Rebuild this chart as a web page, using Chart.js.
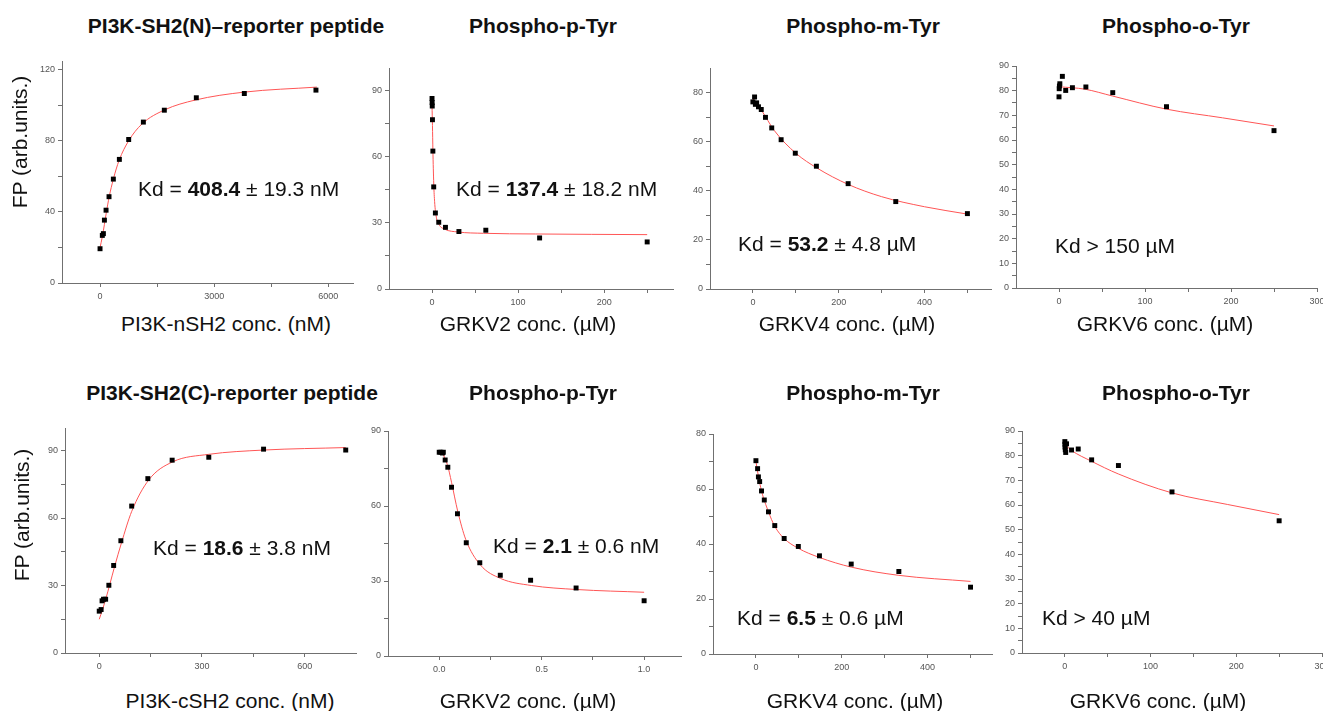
<!DOCTYPE html>
<html>
<head>
<meta charset="utf-8">
<title>FP binding curves</title>
<script src="https://cdn.jsdelivr.net/npm/chart.js@4.4.0/dist/chart.umd.min.js"></script>
<style>
  html, body { margin: 0; padding: 0; background: #fff; }
  body { position: relative; width: 1323px; height: 711px; overflow: hidden;
         font-family: "Liberation Sans", Arial, sans-serif; color: #111; }
  canvas { position: absolute; }
  .lbl { position: absolute; white-space: nowrap; line-height: 1; }
  .title { font-size: 21px; font-weight: bold; transform: translate(-50%, -50%); }
  .xtitle { font-size: 21px; transform: translate(-50%, -50%); }
  .ytitle { font-size: 21px; transform: translate(-50%, -50%) rotate(-90deg); }
  .kd { font-size: 21px; transform: translateY(-50%); }
</style>
</head>
<body>
<script>

// row 1 - PI3K-SH2(N)
var p1X = [0, 60, 88, 115, 158, 236, 350, 508, 753, 1139, 1690, 2531, 3793, 5676];
var p1Y = [19.3, 26.8, 27.8, 35.4, 41.0, 48.6, 58.5, 69.6, 80.8, 90.6, 97.3, 104.3, 106.7, 108.6];
var p1FitX = [0, 60, 115, 160, 240, 350, 500, 750, 1100, 1700, 2500, 3800, 5700];
var p1FitY = [20, 26, 33, 39, 48.5, 58.5, 69, 80, 89.5, 97.5, 103, 107.5, 110.3];

var p2X = [0, 0.12, 0.24, 0.49, 0.98, 1.95, 3.9, 7.8, 15.6, 31.25, 62.5, 125, 250];
var p2Y = [86.2, 84.4, 82.8, 76.6, 62.4, 46.2, 34.4, 30.2, 27.9, 26.0, 26.6, 23.1, 21.3];
var p2FitX = [0, 0.5, 1, 2, 3, 5, 8, 15, 30, 60, 120, 250];
var p2FitY = [83, 74, 63, 47.5, 39.5, 32.5, 29.2, 27, 25.8, 25.2, 24.9, 24.6];

var p3X = [0, 3.9, 5.8, 8.7, 13, 19.5, 29.3, 43.9, 65.8, 98.8, 148, 222, 333, 500];
var p3Y = [76.2, 78.2, 75.2, 75.8, 74.2, 73.1, 69.9, 65.6, 60.8, 55.3, 50.0, 42.9, 35.6, 30.7];
var p3FitX = [0, 20, 50, 100, 150, 222, 300, 400, 500];
var p3FitY = [77.5, 72.8, 64.5, 55.3, 49.2, 42.6, 37.6, 33.5, 30.5];

var p4X = [0, 0.24, 0.49, 0.98, 3.9, 7.8, 15.6, 31.25, 62.5, 125, 250];
var p4Y = [77.5, 80.8, 81.9, 82.8, 85.8, 80.1, 81.2, 81.5, 79.2, 73.5, 63.8];
var p4FitX = [0, 30, 62.5, 125, 190, 250];
var p4FitY = [81.6, 80.6, 77.8, 72.5, 69.0, 65.7];

// row 2 - PI3K-SH2(C)
var p5X = [0, 5.5, 8.3, 12.5, 18.7, 28.1, 42.1, 63.2, 94.8, 142, 213, 320, 480, 720];
var p5Y = [18.6, 19.3, 23.2, 23.9, 23.9, 30.1, 38.9, 49.9, 65.3, 77.5, 85.7, 87.0, 90.6, 90.2];
var p5FitX = [0, 10, 20, 30, 45, 65, 95, 145, 215, 320, 480, 720];
var p5FitY = [15, 19.5, 24.5, 30, 38.5, 49, 63, 77, 85, 88.3, 90.2, 91.3];

var p6X = [0, 0.008, 0.016, 0.02, 0.029, 0.042, 0.06, 0.089, 0.132, 0.198, 0.298, 0.446, 0.668, 1.0];
var p6Y = [81.5, 81.5, 81.2, 81.5, 78.4, 75.5, 67.5, 56.9, 45.3, 37.3, 32.3, 30.3, 27.2, 22.1];
var p6FitX = [0.02, 0.04, 0.06, 0.09, 0.13, 0.2, 0.3, 0.45, 0.67, 1.0];
var p6FitY = [80.5, 76.5, 69.5, 58, 46.5, 36.5, 31, 28.2, 26.6, 25.5];

var p7X = [0, 3.9, 5.8, 8.7, 13, 19.5, 29.3, 43.9, 65.8, 98.8, 148, 222, 333, 500];
var p7Y = [70.3, 67.4, 64.4, 62.7, 59.3, 56.0, 51.7, 46.7, 42.0, 39.1, 35.7, 32.7, 30.0, 24.3];
var p7FitX = [0, 6, 13, 29, 44, 65, 98, 148, 222, 333, 500];
var p7FitY = [70, 64.5, 59.3, 51.8, 46.4, 42.1, 38.5, 35.1, 31.6, 28.6, 26.4];

var p8X = [0, 0.12, 0.24, 0.49, 0.98, 1.95, 7.8, 15.6, 31.25, 62.5, 125, 250];
var p8Y = [85.7, 84.6, 83.5, 82.4, 81.3, 84.8, 82.3, 82.7, 78.3, 76.0, 65.3, 53.6];
var p8FitX = [0, 7.5, 30.7, 62.3, 125, 190, 250];
var p8FitY = [84.6, 82.2, 77.8, 72.6, 64.9, 60.2, 56.1];

/* tick values (major labelled, minor unlabelled) */
var p1XTicks = [0, 3000, 6000],  p1XMinor = [1500, 4500];
var p1YTicks = [0, 40, 80, 120], p1YMinor = [20, 60, 100];
var p2XTicks = [0, 100, 200],    p2XMinor = [50, 150, 250];
var p2YTicks = [0, 30, 60, 90],  p2YMinor = [15, 45, 75];
var p3XTicks = [0, 200, 400],    p3XMinor = [100, 300, 500];
var p3YTicks = [0, 20, 40, 60, 80], p3YMinor = [10, 30, 50, 70];
var p4XTicks = [0, 100, 200, 300], p4XMinor = [50, 150, 250];
var p4YTicks = [0, 10, 20, 30, 40, 50, 60, 70, 80, 90], p4YMinor = [5, 15, 25, 35, 45, 55, 65, 75, 85];
var p5XTicks = [0, 300, 600],    p5XMinor = [150, 450];
var p5YTicks = [0, 30, 60, 90],  p5YMinor = [15, 45, 75];
var p6XTicks = [0, 0.5, 1.0],    p6XMinor = [0.25, 0.75];
var p6XTickLabels = ['0.0', '0.5', '1.0'];
var p6YTicks = [0, 30, 60, 90],  p6YMinor = [15, 45, 75];
var p7XTicks = [0, 200, 400],    p7XMinor = [100, 300, 500];
var p7YTicks = [0, 20, 40, 60, 80], p7YMinor = [10, 30, 50, 70];
var p8XTicks = [0, 100, 200, 300], p8XMinor = [50, 150, 250];
var p8YTicks = [0, 10, 20, 30, 40, 50, 60, 70, 80, 90], p8YMinor = [5, 15, 25, 35, 45, 55, 65, 75, 85];

/* texts */
var titles = ['PI3K-SH2(N)\u2013reporter peptide', 'Phospho-p-Tyr', 'Phospho-m-Tyr', 'Phospho-o-Tyr',
              'PI3K-SH2(C)-reporter peptide', 'Phospho-p-Tyr', 'Phospho-m-Tyr', 'Phospho-o-Tyr'];
var xTitles = ['PI3K-nSH2 conc. (nM)', 'GRKV2 conc. (\u00b5M)', 'GRKV4 conc. (\u00b5M)', 'GRKV6 conc. (\u00b5M)',
               'PI3K-cSH2 conc. (nM)', 'GRKV2 conc. (\u00b5M)', 'GRKV4 conc. (\u00b5M)', 'GRKV6 conc. (\u00b5M)'];
var yTitle = 'FP (arb.units.)';
var kdTexts = [
  ['Kd = ', '408.4', ' \u00b1 19.3 nM'],
  ['Kd = ', '137.4', ' \u00b1 18.2 nM'],
  ['Kd = ', '53.2', ' \u00b1 4.8 \u00b5M'],
  ['Kd > 150 \u00b5M', '', ''],
  ['Kd = ', '18.6', ' \u00b1 3.8 nM'],
  ['Kd = ', '2.1', ' \u00b1 0.6 nM'],
  ['Kd = ', '6.5', ' \u00b1 0.6 \u00b5M'],
  ['Kd > 40 \u00b5M', '', '']
];

/* layout: plot box in page px (l, r, t, b), axis ranges, text anchors */
var LAYOUT = [
  { box: [62, 353, 61, 283],    x: [-1000, 6650], y: [0, 125], title: [236, 25],  xt: [226, 323],  kd: [138, 188] },
  { box: [389, 673, 68, 289],   x: [-50, 280],    y: [0, 100], title: [543, 25],  xt: [528, 323],  kd: [456, 188] },
  { box: [710, 991, 68, 289],   x: [-100, 555],   y: [0, 90],  title: [863, 25],  xt: [847, 323],  kd: [738, 243] },
  { box: [1016, 1317, 66, 288], x: [-50, 300],    y: [0, 90],  title: [1176, 25], xt: [1165, 323], kd: [1055, 245] },
  { box: [65, 356, 428, 653],   x: [-100, 750],   y: [0, 100], title: [232, 392], xt: [230, 700],  kd: [153, 547] },
  { box: [388, 681, 431, 656],  x: [-0.25, 1.18], y: [0, 90],  title: [543, 392], xt: [528, 700],  kd: [493, 545] },
  { box: [713, 992, 434, 654],  x: [-100, 550],   y: [0, 80],  title: [863, 392], xt: [855, 700],  kd: [737, 617] },
  { box: [1022, 1322, 431, 653], x: [-50, 300],   y: [0, 90],  title: [1176, 392], xt: [1158, 700], kd: [1042, 617] }
];
var Y_TITLE_POS = [[19, 142], [21, 515]];

var YW = 40, XH = 24, PAD_T = 10, PAD_R = 14;
var AXIS = '#707070', TICK_TXT = '#555', FIT = 'rgb(255,85,85)';

var PANELS = [
  { x: p1X, y: p1Y, fx: p1FitX, fy: p1FitY, xt: p1XTicks, xm: p1XMinor, yt: p1YTicks, ym: p1YMinor },
  { x: p2X, y: p2Y, fx: p2FitX, fy: p2FitY, xt: p2XTicks, xm: p2XMinor, yt: p2YTicks, ym: p2YMinor },
  { x: p3X, y: p3Y, fx: p3FitX, fy: p3FitY, xt: p3XTicks, xm: p3XMinor, yt: p3YTicks, ym: p3YMinor },
  { x: p4X, y: p4Y, fx: p4FitX, fy: p4FitY, xt: p4XTicks, xm: p4XMinor, yt: p4YTicks, ym: p4YMinor },
  { x: p5X, y: p5Y, fx: p5FitX, fy: p5FitY, xt: p5XTicks, xm: p5XMinor, yt: p5YTicks, ym: p5YMinor },
  { x: p6X, y: p6Y, fx: p6FitX, fy: p6FitY, xt: p6XTicks, xm: p6XMinor, yt: p6YTicks, ym: p6YMinor, xl: p6XTickLabels },
  { x: p7X, y: p7Y, fx: p7FitX, fy: p7FitY, xt: p7XTicks, xm: p7XMinor, yt: p7YTicks, ym: p7YMinor },
  { x: p8X, y: p8Y, fx: p8FitX, fy: p8FitY, xt: p8XTicks, xm: p8XMinor, yt: p8YTicks, ym: p8YMinor }
];

function pts(xs, ys) {
  return xs.map(function (x, i) { return { x: x, y: ys[i] }; });
}

function scaleOpts(range, major, minor, labels, isY) {
  return {
    type: 'linear',
    min: range[0],
    max: range[1],
    afterBuildTicks: function (scale) {
      scale.ticks = major.concat(minor).sort(function (a, b) { return a - b; })
        .map(function (v) { return { value: v }; });
    },
    afterFit: function (scale) {
      if (isY) scale.width = YW; else scale.height = XH;
    },
    ticks: {
      autoSkip: false,
      maxRotation: 0,
      minRotation: 0,
      padding: isY ? 3 : 4,
      color: TICK_TXT,
      font: { family: '"Liberation Sans", Arial, sans-serif', size: 9 },
      callback: function (value) {
        var i = major.indexOf(value);
        if (i < 0) return '';
        return labels ? labels[i] : String(value);
      }
    },
    grid: { drawOnChartArea: false, drawTicks: true, tickLength: 4, color: AXIS, tickColor: AXIS },
    border: { display: true, color: AXIS, width: 1 }
  };
}

function addLabel(cls, x, y, html) {
  var d = document.createElement('div');
  d.className = 'lbl ' + cls;
  d.style.left = x + 'px';
  d.style.top = y + 'px';
  d.innerHTML = html;
  document.body.appendChild(d);
}

PANELS.forEach(function (p, k) {
  var L = LAYOUT[k], b = L.box;
  var cv = document.createElement('canvas');
  var w = b[1] - b[0] + YW + PAD_R, h = b[3] - b[2] + PAD_T + XH;
  cv.width = w; cv.height = h;
  cv.style.width = w + 'px'; cv.style.height = h + 'px';
  cv.style.left = (b[0] - YW) + 'px';
  cv.style.top = (b[2] - PAD_T) + 'px';
  document.body.appendChild(cv);

  new Chart(cv, {
    type: 'scatter',
    data: {
      datasets: [
        { data: pts(p.x, p.y), pointStyle: 'rect', pointRadius: 3.5,
          backgroundColor: '#000', borderColor: '#000', borderWidth: 0, showLine: false },
        { data: pts(p.fx, p.fy), showLine: true, pointRadius: 0, fill: false,
          borderColor: FIT, borderWidth: 1, cubicInterpolationMode: 'monotone' }
      ]
    },
    options: {
      responsive: false,
      animation: false,
      events: [],
      layout: { padding: { top: PAD_T, right: PAD_R, left: 0, bottom: 0 } },
      plugins: { legend: { display: false }, tooltip: { enabled: false } },
      scales: {
        x: scaleOpts(L.x, p.xt, p.xm, p.xl, false),
        y: scaleOpts(L.y, p.yt, p.ym, null, true)
      }
    }
  });

  addLabel('title', L.title[0], L.title[1], titles[k]);
  addLabel('xtitle', L.xt[0], L.xt[1], xTitles[k]);
  var t = kdTexts[k];
  addLabel('kd', L.kd[0], L.kd[1], t[0] + (t[1] ? '<b>' + t[1] + '</b>' : '') + t[2]);
});

Y_TITLE_POS.forEach(function (pos) {
  addLabel('ytitle', pos[0], pos[1], yTitle);
});
</script>
</body>
</html>
